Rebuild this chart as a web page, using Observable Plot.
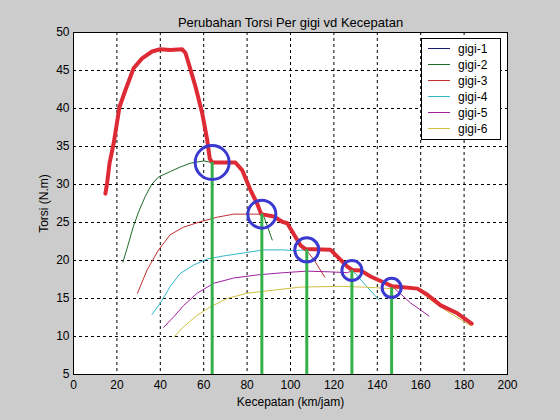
<!DOCTYPE html>
<html>
<head>
<meta charset="utf-8">
<script src="https://cdn.jsdelivr.net/npm/d3@7"></script>
<script src="https://cdn.jsdelivr.net/npm/@observablehq/plot@0.6"></script>
<style>
  html, body { margin: 0; padding: 0; background: #cccccc; }
  #wrap { position: relative; width: 560px; height: 420px; background: #cccccc; font-family: "Liberation Sans", Arial, sans-serif; }
  #legend { position: absolute; left: 421px; top: 38px; }
</style>
</head>
<body>
<div id="wrap"></div>
<script>
// ---------- data ----------
const gears = ["gigi-1", "gigi-2", "gigi-3", "gigi-4", "gigi-5", "gigi-6"];
const gearColors = ["#1a1a6e", "#1f6b2a", "#c03030", "#30b8c8", "#a020a0", "#d0c040"];

const gigi1 = [[14.7,28.8],[15.5,30.2],[16.6,32.8],[18.5,35.4],[21.2,40.2],[23.9,42.4],[27.7,45.3],[31.6,46.6],[36.2,47.5],[40,47.8],[44.6,47.6],[46,47.9],[50,47.8],[51.6,47.3],[53.1,45.9],[56.2,42.9],[59.3,39.4],[61.6,35.9],[62.8,33.4],[63.6,32.8]];
const gigi2 = [[22.8,19.8],[25,21.9],[27.5,24.4],[30,26.4],[33,28.4],[36,30.0],[39.2,31.0],[44.6,31.7],[49.2,32.3],[53.8,32.8],[60,33.1],[63.9,32.9],[74.6,32.9],[77.7,31.9],[81.5,29.3],[84.6,27.5],[87.7,25.8],[91.6,22.7]];
const gigi3 = [[29.5,15.7],[33.9,18.75],[39.2,21.4],[44.6,23.4],[50.8,24.4],[58.5,25.1],[66.2,25.7],[73.9,26.1],[80,26.1],[86.5,26.1],[92.3,25.8],[96.2,25.1],[98.5,24.9],[102.3,23.1],[104.6,22.0],[106.9,21.5],[110.8,20.1],[115.8,17.8]];
const gigi4 = [[36.2,12.9],[40,14.4],[44.6,16.6],[49.2,18.3],[55.4,19.4],[61.6,20.2],[69.2,20.6],[78.5,21.0],[87.7,21.4],[96.2,21.4],[102.3,21.3],[106.9,21.4],[118.5,21.4],[122.3,20.3],[126.2,19.2],[128.5,18.75],[133.8,17.0],[140.8,14.8]];
const gigi5 = [[41.5,11.2],[46.2,12.6],[50.8,14.1],[57,15.7],[64.6,17.0],[73.9,17.7],[84.6,18.1],[96.9,18.4],[107.7,18.6],[118.5,18.5],[126.2,18.4],[128.8,18.7],[132.3,18.7],[136.9,17.9],[143.1,17.1],[146.9,16.6],[150,15.8],[155.4,14.4],[163.8,12.7]];
const gigi6 = [[46.5,10.0],[50.8,11.3],[57,12.8],[63.1,13.9],[70.8,15.0],[80,15.7],[92.3,16.1],[104.6,16.5],[123.1,16.6],[133.8,16.5],[146.3,16.3],[150.8,16.4],[158.5,16.2],[164.6,14.8],[172.3,13.3],[183.1,11.4]];

const envelope = [[14.7,28.8],[15.5,30.2],[16.6,32.8],[18.5,35.4],[21.2,40.2],[23.9,42.4],[27.7,45.3],[31.6,46.6],[36.2,47.5],[40,47.8],[44.6,47.7],[50,47.8],[51.6,47.3],[53.1,45.9],[56.2,42.9],[59.3,39.4],[61.6,35.9],[62.8,33.4],[63.9,32.9],[74.6,32.9],[77.7,31.9],[81.5,29.3],[84.6,27.5],[86.5,26.1],[92.3,25.8],[96.2,25.1],[98.5,24.9],[102.3,23.1],[104.6,22.0],[106.9,21.5],[118.5,21.4],[122.3,20.3],[126.2,19.2],[128.5,18.75],[132.3,18.7],[136.9,17.9],[143.1,17.1],[146.9,16.6],[150.8,16.5],[158.5,16.3],[163.1,15.5],[169.2,14.1],[176.9,13.05],[183.5,11.7]];

const shiftSpeed  = [63.9, 86.8, 107.5, 128.3, 146.6];
const shiftTorque = [32.9, 26.1, 21.4, 18.7, 16.4];

const xTicks = [0, 20, 40, 60, 80, 100, 120, 140, 160, 180, 200];
const yTicks = [5, 10, 15, 20, 25, 30, 35, 40, 45, 50];

// ---------- build tables ----------
const series = [gigi1, gigi2, gigi3, gigi4, gigi5, gigi6];
const gearRows = series.flatMap((s, i) => s.map(([x, y]) => ({gear: gears[i], x, y})));
const envRows = envelope.map(([x, y]) => ({x, y}));
const shifts = shiftSpeed.map((x, i) => ({x, y: shiftTorque[i], i}));
const circleR = [17, 14, 12, 10, 9.5]; // style: ring size per shift point

const font = "Liberation Sans, Arial, sans-serif";

const chart = Plot.plot({
  width: 560,
  height: 420,
  marginLeft: 73,
  marginRight: 53,
  marginTop: 32,
  marginBottom: 46,
  style: {background: "#cccccc", fontFamily: font, fontSize: "12px", color: "black"},
  x: {domain: [0, 200]},
  y: {domain: [5, 50]},
  color: {domain: gears, range: gearColors},
  r: {type: "identity"},
  marks: [
    Plot.frame({fill: "white", stroke: null}),
    Plot.gridX(xTicks.slice(1, -1), {stroke: "black", strokeOpacity: 1, strokeDasharray: "3,3", strokeWidth: 1}),
    Plot.gridY(yTicks.slice(1, -1), {stroke: "black", strokeOpacity: 1, strokeDasharray: "3,3", strokeWidth: 1}),
    Plot.axisX(xTicks, {tickSize: 0, tickPadding: 6, fontSize: 12, label: "Kecepatan (km/jam)", labelAnchor: "center", labelArrow: "none", labelOffset: 31}),
    Plot.axisY(yTicks, {tickSize: 0, tickPadding: 4, fontSize: 12, label: "Torsi (N.m)", labelAnchor: "center", labelArrow: "none", labelOffset: 34}),
    Plot.line(gearRows, {x: "x", y: "y", z: "gear", stroke: "gear", strokeWidth: 1}),
    Plot.line(envRows, {x: "x", y: "y", stroke: "#dd2a34", strokeWidth: 4, strokeLinejoin: "round", strokeLinecap: "round"}),
    Plot.ruleX(shifts, {x: "x", y1: 5, y2: "y", stroke: "#33b04a", strokeWidth: 3}),
    Plot.dot(shifts, {x: "x", y: "y", r: (d) => circleR[d.i], stroke: "#3a3ad0", strokeWidth: 3, fill: "none"}),
    Plot.text(["Perubahan Torsi Per gigi vd Kecepatan"], {frameAnchor: "top", dy: -15, fontSize: 13, fill: "black"}),
    Plot.frame({stroke: "black", strokeWidth: 1})
  ]
});

document.getElementById("wrap").appendChild(chart);

// ---------- legend (overlay built from the series arrays) ----------
const lw = 79, rowH = 16, lh = 101;
const leg = d3.select("#wrap").append("svg")
  .attr("id", "legend")
  .attr("width", lw + 1).attr("height", lh + 1);
leg.append("rect").attr("x", 0.5).attr("y", 0.5).attr("width", lw).attr("height", lh)
  .attr("fill", "white").attr("stroke", "black");
const rows = leg.selectAll("g").data(gears).join("g")
  .attr("transform", (d, i) => `translate(0, ${10 + i * rowH})`);
rows.append("line").attr("x1", 7).attr("x2", 29).attr("y1", 0.5).attr("y2", 0.5)
  .attr("stroke", (d, i) => gearColors[i]).attr("stroke-width", 1);
rows.append("text").attr("x", 37).attr("y", 4.5)
  .attr("font-family", font).attr("font-size", 12).attr("fill", "black")
  .text(d => d);
</script>
</body>
</html>
